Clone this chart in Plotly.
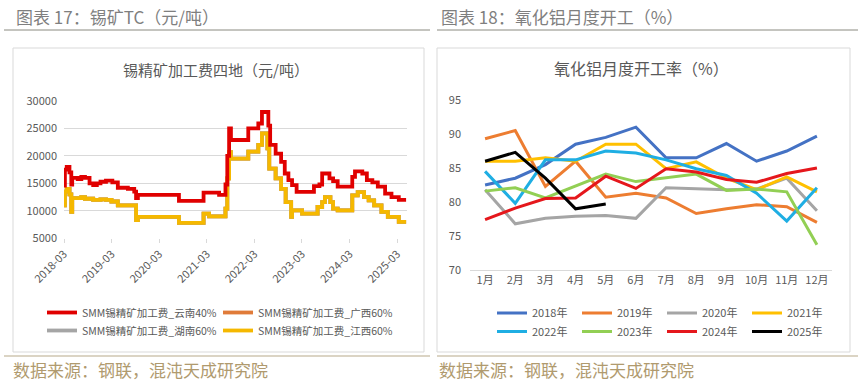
import plotly.graph_objects as go

W, H = 861, 381
def px(x): return x / W
def py(y): return 1 - y / H

# ---------------- Left chart data (step series, change points) ----------------
yn_dates = ["2018-03-01","2018-03-08","2018-03-22","2018-04-12","2018-04-26","2018-05-03",
            "2018-06-14","2018-07-12","2018-08-09","2018-09-13","2018-10-11","2018-11-08",
            "2018-12-06","2019-01-17","2019-03-07","2019-04-18","2019-07-04","2019-08-22",
            "2019-09-05","2019-09-19","2020-07-30","2021-02-04","2021-06-03","2021-07-22",
            "2021-08-05","2021-08-19","2021-09-02","2022-01-13","2022-03-31","2022-04-28",
            "2022-06-16","2022-06-30","2022-08-11","2022-09-22","2022-10-20","2022-11-17",
            "2022-12-15","2023-01-19","2023-06-01","2023-07-13","2023-08-03","2023-09-28",
            "2023-10-26","2023-11-30","2024-03-21","2024-04-11","2024-06-06","2024-07-11",
            "2024-08-22","2024-10-03","2024-11-28","2025-01-16","2025-03-13","2025-05-08"]
yn_vals = [14600,17500,18000,17000,14800,16000,
           15800,16200,16000,15000,14700,15000,
           15300,15500,15200,14200,14000,13500,
           12300,12900,11800,13300,12900,14800,
           20000,25000,22900,25000,25900,28000,
           25500,22000,20400,18900,16800,15600,
           14700,13450,14500,14800,16800,15900,
           15400,14400,16200,17200,16800,15600,
           15200,14400,13150,12500,12000,12000]

jx_dates = ["2018-03-01","2018-03-08","2018-03-22","2018-04-12","2018-04-26","2018-05-03",
            "2018-07-12","2018-08-09","2018-10-11","2018-12-06","2019-01-17","2019-02-28",
            "2019-04-18","2019-09-05","2019-09-19","2020-07-30","2021-02-04","2021-03-18",
            "2021-07-22","2021-08-05","2021-08-19","2021-09-02","2022-01-13","2022-03-31",
            "2022-04-28","2022-06-09","2022-06-23","2022-08-11","2022-09-22","2022-10-27",
            "2022-12-08","2022-12-15","2023-03-02","2023-06-29","2023-08-03","2023-08-24",
            "2023-10-05","2023-10-26","2023-11-30","2024-03-21","2024-05-02","2024-06-20",
            "2024-07-25","2024-09-05","2024-10-31","2024-12-19","2025-03-13","2025-05-08"]
jx_vals = [11000,13500,14000,13000,9800,12300,
           12500,12200,12000,12100,12000,11700,
           11000,8300,8900,7800,9500,9000,
           10400,15900,20700,19500,20800,22000,
           24100,21400,17700,15900,14000,11600,
           8900,10100,9500,10700,11600,12500,
           11600,10400,10100,12800,13400,12500,
           11900,11000,9800,8900,8000,8000]

left_tickvals = ["2018-03-01","2019-03-01","2020-03-01","2021-03-01",
                 "2022-03-01","2023-03-01","2024-03-01","2025-03-01"]
left_ticktext = ["2018-03","2019-03","2020-03","2021-03","2022-03","2023-03","2024-03","2025-03"]

# ---------------- Right chart data ----------------
months = ["1月","2月","3月","4月","5月","6月","7月","8月","9月","10月","11月","12月"]
y2018 = [82.5,83.5,85.5,88.5,89.5,91.0,86.5,86.5,88.6,86.0,87.5,89.7]
y2019 = [89.3,90.5,82.3,86.0,80.7,81.3,80.6,78.3,79.0,79.6,79.3,77.0]
y2020 = [81.8,76.8,77.6,77.9,78.0,77.6,82.1,81.9,81.8,81.9,83.5,78.7]
y2021 = [86.0,86.0,86.5,86.0,88.5,88.5,84.9,85.9,83.5,81.8,83.7,81.5]
y2022 = [84.5,79.8,86.2,86.2,87.5,87.2,86.2,84.9,83.9,81.3,77.2,82.1]
y2023 = [81.6,82.1,80.6,82.3,84.1,83.0,83.5,84.1,81.7,81.9,81.5,73.7]
y2024 = [77.4,79.1,80.5,80.6,83.8,82.0,84.9,84.4,83.3,82.9,84.2,85.0]
y2025 = [86.0,87.3,83.5,79.0,79.7]

FONT = "Noto Sans CJK SC"
TXT = "#595959"

fig = go.Figure()

# left series (each legend entry in its own legend box for a 2x2 grid)
left_series = [
    ("SMM锡精矿加工费_云南40%", yn_dates, yn_vals, "#E00000", "legend"),
    ("SMM锡精矿加工费_广西60%", jx_dates, jx_vals, "#E07B39", "legend5"),
    ("SMM锡精矿加工费_湖南60%", jx_dates, jx_vals, "#A5A5A5", "legend3"),
    ("SMM锡精矿加工费_江西60%", jx_dates, jx_vals, "#F5B800", "legend6"),
]
draw_order = [1, 2, 3, 0]
for i in draw_order:
    name, xs, ys, col, lg = left_series[i]
    fig.add_trace(go.Scatter(x=xs, y=ys, name=name, mode="lines", line=dict(color=col, width=3.8, shape="hv"),
                             xaxis="x", yaxis="y", legend=lg, legendrank=i, showlegend=True))

right_series = [
    ("2018年", y2018, "#4472C4", "legend2"),
    ("2019年", y2019, "#ED7D31", "legend2"),
    ("2020年", y2020, "#A5A5A5", "legend2"),
    ("2021年", y2021, "#FFC000", "legend2"),
    ("2022年", y2022, "#1FAEE3", "legend4"),
    ("2023年", y2023, "#92CF54", "legend4"),
    ("2024年", y2024, "#E5171C", "legend4"),
    ("2025年", y2025, "#000000", "legend4"),
]
for i, (name, ys, col, lg) in enumerate(right_series):
    fig.add_trace(go.Scatter(x=months[:len(ys)], y=ys, name=name, mode="lines", line=dict(color=col, width=3),
                             xaxis="x2", yaxis="y2", legend=lg, legendrank=i, showlegend=True))

legfont = dict(family=FONT, size=11, color=TXT)
legfont_l = dict(family=FONT, size=10.5, color=TXT)

def left_leg(xp, yp):
    return dict(orientation="h", x=px(xp), y=py(yp), xanchor="left", yanchor="top",
                font=legfont_l, bgcolor="rgba(0,0,0,0)", traceorder="normal")

fig.update_layout(
    width=W, height=H, margin=dict(l=0, r=0, t=0, b=0, autoexpand=False),
    paper_bgcolor="white", plot_bgcolor="rgba(0,0,0,0)", showlegend=True,
    xaxis=dict(domain=[px(64), px(407)], type="date", range=["2018-03-01", "2025-05-15"],
               tickvals=left_tickvals, ticktext=left_ticktext, tickangle=-45,
               showgrid=False, showline=False, ticks="outside", ticklen=4, tickcolor="#D9D9D9",
               tickfont=dict(family=FONT, size=11, color=TXT), anchor="y", zeroline=False, automargin=False),
    yaxis=dict(domain=[py(238.3), py(101)], range=[5000, 30000], dtick=5000, tickformat="d",
               showgrid=True, gridcolor="#D9D9D9", gridwidth=1, zeroline=False,
               tickfont=dict(family=FONT, size=11, color=TXT), anchor="x", ticklabelstandoff=6, automargin=False),
    xaxis2=dict(domain=[px(470), px(832)], type="category", categoryorder="array", categoryarray=months,
                range=[-0.5, 11.5],
                showgrid=False, showline=True, linecolor="#D9D9D9", ticks="",
                tickfont=dict(family=FONT, size=11, color=TXT), anchor="y2", automargin=False),
    yaxis2=dict(domain=[py(270), py(100)], range=[70, 95], dtick=5, showgrid=False, zeroline=False,
                tickfont=dict(family=FONT, size=11, color=TXT), anchor="x2", ticklabelstandoff=8, automargin=False),
    legend=left_leg(42, 298),
    legend5=left_leg(218, 298),
    legend3=left_leg(42, 316),
    legend6=left_leg(218, 316),
    legend2=dict(orientation="h", x=px(492), y=py(298.5), xanchor="left", yanchor="top",
                 entrywidth=40, entrywidthmode="pixels", font=legfont, bgcolor="rgba(0,0,0,0)",
                 traceorder="normal"),
    legend4=dict(orientation="h", x=px(492), y=py(317), xanchor="left", yanchor="top",
                 entrywidth=40, entrywidthmode="pixels", font=legfont, bgcolor="rgba(0,0,0,0)",
                 traceorder="normal"),
)

shapes = []
# chart boxes
shapes.append(dict(type="rect", xref="paper", yref="paper", x0=px(13), x1=px(424), y0=py(352), y1=py(48),
                   line=dict(color="#D9D9D9", width=1), layer="below"))
shapes.append(dict(type="rect", xref="paper", yref="paper", x0=px(437), x1=px(850), y0=py(352), y1=py(48),
                   line=dict(color="#D9D9D9", width=1), layer="below"))
# header underlines
shapes.append(dict(type="line", xref="paper", yref="paper", x0=px(4), x1=px(430), y0=py(30), y1=py(30),
                   line=dict(color="#8A8A80", width=1)))
shapes.append(dict(type="line", xref="paper", yref="paper", x0=px(437), x1=px(858), y0=py(30), y1=py(30),
                   line=dict(color="#8A8A80", width=1)))
# footer lines
shapes.append(dict(type="line", xref="paper", yref="paper", x0=px(4), x1=px(430), y0=py(356), y1=py(356),
                   line=dict(color="#CFC6B0", width=1.5)))
shapes.append(dict(type="line", xref="paper", yref="paper", x0=px(437), x1=px(858), y0=py(356), y1=py(356),
                   line=dict(color="#CFC6B0", width=1.5)))
fig.update_layout(shapes=shapes)

ann = [
    dict(text="图表 17：锡矿TC（元/吨）", x=px(14), y=py(17), xanchor="left", yanchor="middle",
         font=dict(family=FONT, size=17, color="#7F7F7F")),
    dict(text="图表 18：氧化铝月度开工（%）", x=px(439), y=py(17), xanchor="left", yanchor="middle",
         font=dict(family=FONT, size=17, color="#7F7F7F")),
    dict(text="锡精矿加工费四地（元/吨）", x=px(216), y=py(69), xanchor="center", yanchor="middle",
         font=dict(family=FONT, size=15, color=TXT)),
    dict(text="氧化铝月度开工率（%）", x=px(641), y=py(68), xanchor="center", yanchor="middle",
         font=dict(family=FONT, size=16, color=TXT)),
    dict(text="数据来源：钢联，混沌天成研究院", x=px(12), y=py(369), xanchor="left", yanchor="middle",
         font=dict(family=FONT, size=17, color="#B09A6E"), borderpad=0),
    dict(text="数据来源：钢联，混沌天成研究院", x=px(438), y=py(369), xanchor="left", yanchor="middle",
         font=dict(family=FONT, size=17, color="#B09A6E"), borderpad=0),
]
for a in ann:
    a.update(xref="paper", yref="paper", showarrow=False)
fig.update_layout(annotations=ann)

fig.write_html("out.html", config={"displayModeBar": False},
               post_script="document.body.style.margin='0px';document.body.style.overflow='hidden';")
